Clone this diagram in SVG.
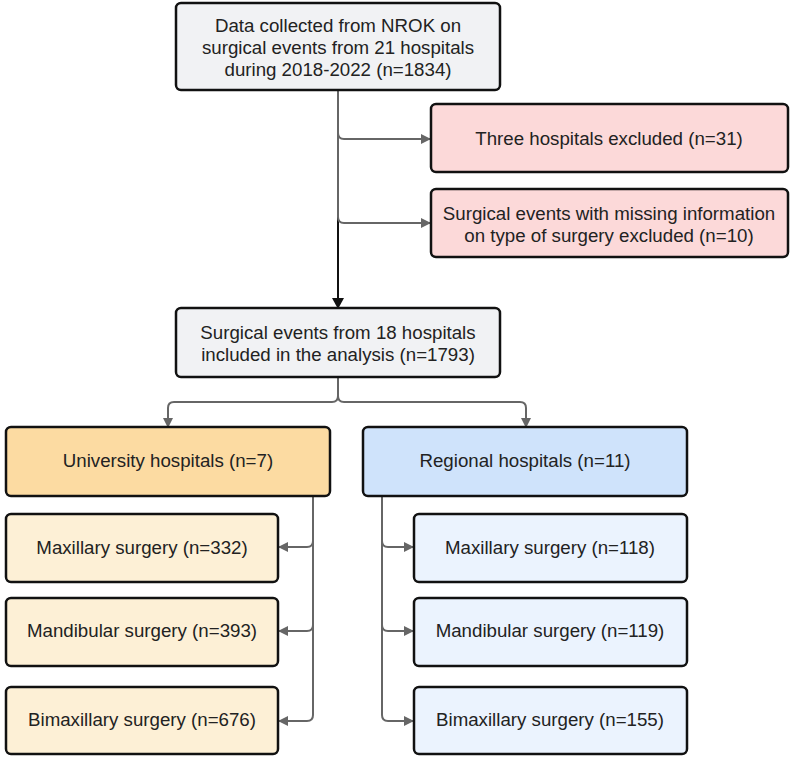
<svg xmlns="http://www.w3.org/2000/svg" width="794" height="761" viewBox="0 0 794 761">
<style>
.box{stroke:#111;stroke-width:2.5}
.gray{fill:#f1f2f4}.red{fill:#fcd9d9}.uni{fill:#fcdba2}.reg{fill:#cfe3fb}.unis{fill:#fdf0d6}.regs{fill:#ebf3fe}
text{font-family:"Liberation Sans",Arial,sans-serif;font-size:18.7px;fill:#222;text-anchor:middle}
.c{fill:none;stroke:#666;stroke-width:2}
.m{fill:none;stroke:#111;stroke-width:2}
</style>
<defs>
<marker id="ag" markerWidth="10" markerHeight="10" refX="9" refY="5" orient="auto" markerUnits="userSpaceOnUse"><path d="M0,0L10,5L0,10z" fill="#666"/></marker>
<marker id="ab" markerWidth="10" markerHeight="12" refX="9" refY="6" orient="auto" markerUnits="userSpaceOnUse"><path d="M0,0L11,6L0,12z" fill="#111"/></marker>
</defs>
<g id="connectors">
<path class="m" d="M338,90V307" marker-end="url(#ab)"/>
<path class="c" d="M338,90V133Q338,139 344,139H430" marker-end="url(#ag)"/>
<path class="c" d="M338,90V217Q338,223 344,223H430" marker-end="url(#ag)"/>
<path class="c" d="M338,377V396Q338,402 332,402H174Q168,402 168,408V427" marker-end="url(#ag)"/>
<path class="c" d="M338,396Q338,402 344,402H520Q526,402 526,408V427" marker-end="url(#ag)"/>
<path class="c" d="M313,496V541Q313,547 307,547H279" marker-end="url(#ag)"/>
<path class="c" d="M313,541V625Q313,631 307,631H279" marker-end="url(#ag)"/>
<path class="c" d="M313,625V715Q313,721 307,721H279" marker-end="url(#ag)"/>
<path class="c" d="M382,496V541Q382,547 388,547H413" marker-end="url(#ag)"/>
<path class="c" d="M382,541V625Q382,631 388,631H413" marker-end="url(#ag)"/>
<path class="c" d="M382,625V715Q382,721 388,721H413" marker-end="url(#ag)"/>
</g>
<g id="n1"><rect class="box gray" x="176" y="3" width="324" height="87" rx="5"/>
<text x="338" y="31.5">Data collected from NROK on</text><text x="338" y="53.5">surgical events from 21 hospitals</text><text x="338" y="75.5">during 2018-2022 (n=1834)</text></g>
<g id="n2"><rect class="box red" x="431" y="104" width="357" height="68" rx="5"/>
<text x="609" y="145">Three hospitals excluded (n=31)</text></g>
<g id="n3"><rect class="box red" x="431" y="189" width="357" height="68" rx="5"/>
<text x="609" y="219.5">Surgical events with missing information</text><text x="609" y="241.5">on type of surgery excluded (n=10)</text></g>
<g id="n4"><rect class="box gray" x="176" y="308" width="324" height="69" rx="5"/>
<text x="338" y="338.5">Surgical events from 18 hospitals</text><text x="338" y="360.5">included in the analysis (n=1793)</text></g>
<g id="n5"><rect class="box uni" x="6" y="427" width="324" height="69" rx="5"/>
<text x="168" y="467">University hospitals (n=7)</text></g>
<g id="n6"><rect class="box reg" x="363" y="427" width="324" height="69" rx="5"/>
<text x="525" y="467">Regional hospitals (n=11)</text></g>
<g id="n7"><rect class="box unis" x="6" y="514" width="272" height="68" rx="5"/>
<text x="142" y="554">Maxillary surgery (n=332)</text></g>
<g id="n8"><rect class="box unis" x="6" y="598" width="272" height="68" rx="5"/>
<text x="142" y="637">Mandibular surgery (n=393)</text></g>
<g id="n9"><rect class="box unis" x="6" y="687" width="272" height="67" rx="5"/>
<text x="142" y="726">Bimaxillary surgery (n=676)</text></g>
<g id="n10"><rect class="box regs" x="414" y="514" width="273" height="68" rx="5"/>
<text x="550" y="554">Maxillary surgery (n=118)</text></g>
<g id="n11"><rect class="box regs" x="414" y="598" width="273" height="68" rx="5"/>
<text x="550" y="637">Mandibular surgery (n=119)</text></g>
<g id="n12"><rect class="box regs" x="414" y="687" width="273" height="67" rx="5"/>
<text x="550" y="726">Bimaxillary surgery (n=155)</text></g>
</svg>
